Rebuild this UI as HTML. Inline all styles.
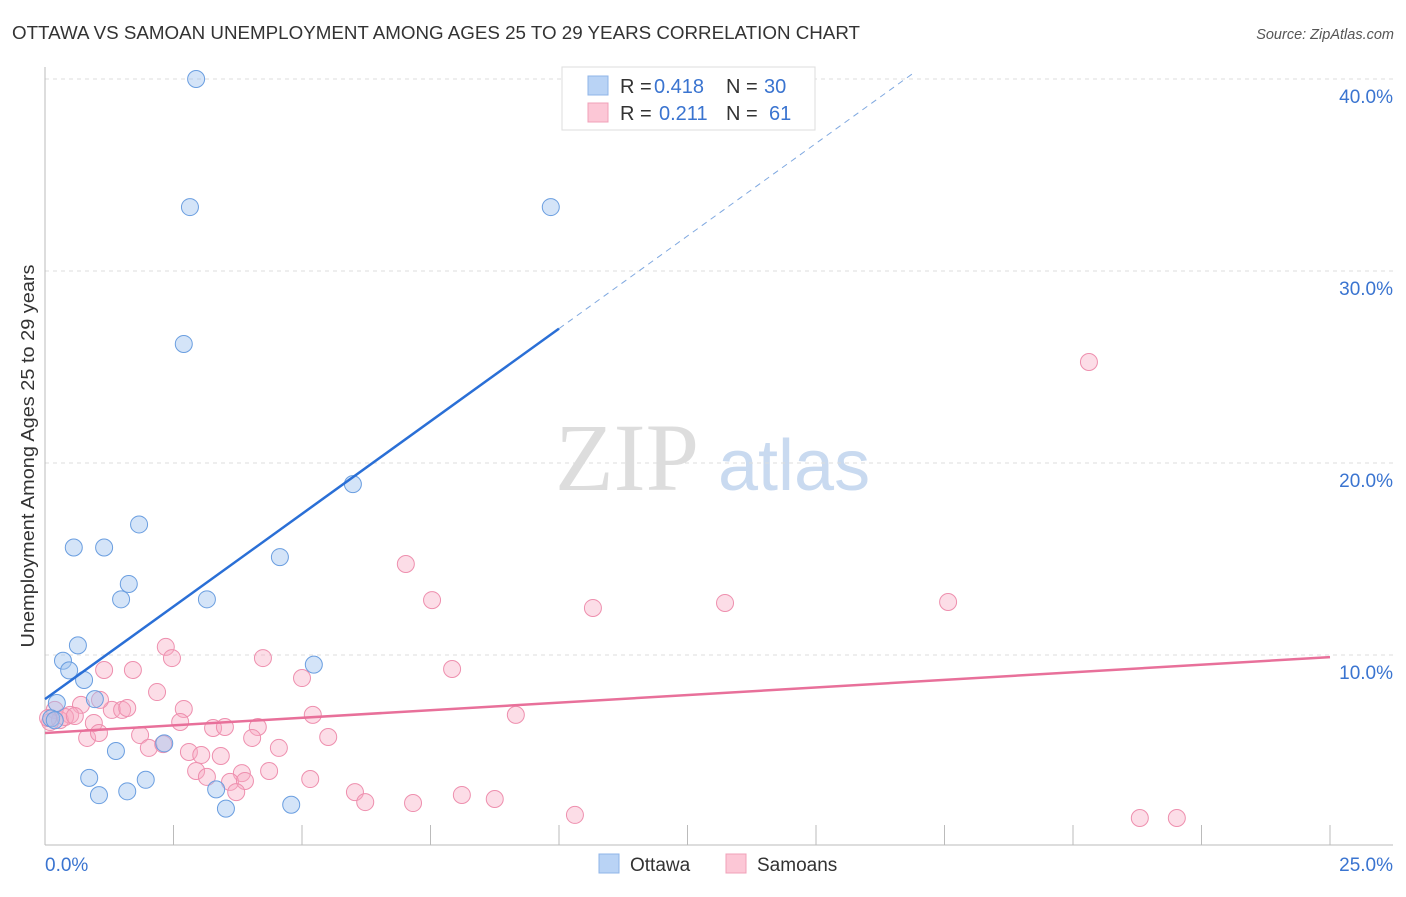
<!DOCTYPE html>
<html><head><meta charset="utf-8"><style>
body{margin:0;background:#fff;font-family:"Liberation Sans",sans-serif;}
</style></head><body>
<svg id="chart" width="1406" height="892" xmlns="http://www.w3.org/2000/svg" font-family="Liberation Sans, sans-serif">
<text x="12" y="39" font-size="18" fill="#333" textLength="848" lengthAdjust="spacingAndGlyphs">OTTAWA VS SAMOAN UNEMPLOYMENT AMONG AGES 25 TO 29 YEARS CORRELATION CHART</text>
<text x="1394" y="39" font-size="14.5" fill="#555" text-anchor="end" font-style="italic">Source: ZipAtlas.com</text>
<g>
<text x="555" y="490" font-size="96" fill="#ddd" style="font-family:'Liberation Serif',serif">ZIP</text>
<text x="718" y="490" font-size="72" fill="#c9daf0">atlas</text>
</g>
<g id="grid"></g>
<g id="axes"></g>
<g id="marks"></g>
<g id="lines"></g>
<text transform="translate(34,456) rotate(-90)" font-size="18" fill="#333" text-anchor="middle" textLength="383" lengthAdjust="spacingAndGlyphs">Unemployment Among Ages 25 to 29 years</text>
<g>
<rect x="562" y="67" width="253" height="63" fill="#fff" stroke="#ddd"/>
<rect x="588" y="76" width="20" height="19" fill="#b9d3f5" stroke="#8fb4e8"/>
<rect x="588" y="103" width="20" height="19" fill="#fcc7d6" stroke="#f0a0b8"/>
<text x="620" y="93" font-size="20" fill="#333">R =</text>
<text x="654" y="93" font-size="20" fill="#3a74d0">0.418</text>
<text x="726" y="93" font-size="20" fill="#333">N =</text>
<text x="764" y="93" font-size="20" fill="#3a74d0">30</text>
<text x="620" y="120" font-size="20" fill="#333">R =</text>
<text x="659" y="120" font-size="20" fill="#3a74d0">0.211</text>
<text x="726" y="120" font-size="20" fill="#333">N =</text>
<text x="769" y="120" font-size="20" fill="#3a74d0">61</text>
</g>
<g>
<rect x="599" y="854" width="20" height="19" fill="#b9d3f5" stroke="#8fb4e8"/>
<text x="630" y="871" font-size="19" fill="#333">Ottawa</text>
<rect x="726" y="854" width="20" height="19" fill="#fcc7d6" stroke="#f0a0b8"/>
<text x="757" y="871" font-size="19" fill="#333">Samoans</text>
</g>
</svg>
<script>
const ottawaX=[2.94,2.82,9.84,2.70,5.99,1.83,0.56,1.15,4.57,1.63,1.48,3.15,0.64,0.35,0.47,5.23,0.76,0.97,0.23,0.12,0.19,1.38,2.32,0.86,1.96,1.05,1.60,3.33,4.79,3.52];
const ottawaY=[40.0,33.33,33.33,26.2,18.9,16.8,15.6,15.6,15.1,13.7,12.9,12.9,10.5,9.7,9.2,9.5,8.7,7.7,7.5,6.7,6.6,5.0,5.4,3.6,3.5,2.7,2.9,3.0,2.2,2.0];
const samoanX=[20.31,7.02,7.53,10.66,13.23,17.57,2.35,2.47,1.15,1.71,4.24,7.92,5.00,2.18,0.70,1.30,1.50,1.60,2.70,0.19,0.49,0.95,2.63,3.27,3.50,4.14,5.21,9.16,0.29,0.82,1.85,1.05,2.02,2.30,2.80,3.04,3.42,4.55,5.51,4.03,2.94,3.15,3.83,4.36,3.60,3.89,3.72,5.16,6.03,6.23,7.16,8.11,8.75,10.31,21.30,22.02,0.10,0.39,0.58,1.07,0.06];
const samoanY=[25.26,14.74,12.86,12.45,12.71,12.76,10.42,9.84,9.22,9.22,9.84,9.27,8.80,8.07,7.40,7.14,7.14,7.24,7.19,7.14,6.88,6.46,6.51,6.20,6.25,6.25,6.88,6.88,6.61,5.68,5.83,5.94,5.16,5.36,4.95,4.79,4.74,5.16,5.73,5.68,3.96,3.65,3.85,3.96,3.39,3.44,2.86,3.54,2.86,2.34,2.29,2.71,2.50,1.67,1.51,1.51,6.51,6.77,6.82,7.66,6.72];
const yTicks=[10,20,30,40];
const yTickLabels=["10.0%","20.0%","30.0%","40.0%"];
const xTicks=[0,2.5,5,7.5,10,12.5,15,17.5,20,22.5,25];
const ottawaFit=[7.7,1.93];
const samoanFit=[5.94,0.158];
const NS="http://www.w3.org/2000/svg";
const xs=v=>45+v*51.4, ys=v=>847-v*19.2;
function mk(p,t,a){const e=document.createElementNS(NS,t);for(const k in a)e.setAttribute(k,a[k]);p.appendChild(e);return e;}
const grid=document.getElementById('grid'),axes=document.getElementById('axes'),marks=document.getElementById('marks'),lines=document.getElementById('lines');
yTicks.forEach((t,i)=>{
 const l=mk(grid,'line',{x1:45,x2:1393,y1:ys(t),y2:ys(t),stroke:'#ddd','stroke-dasharray':'4,4'});
 
 
 const tx=mk(grid,'text',{x:1393,y:ys(t)+24,'font-size':19,fill:'#3a74d0','text-anchor':'end'});tx.textContent=yTickLabels[i];
 
 
});
let a=mk(axes,'line',{x1:45,x2:45,y1:67,y2:845,stroke:'#bbb'});


a=mk(axes,'line',{x1:45,x2:1393,y1:845,y2:845,stroke:'#bbb'});


xTicks.forEach(t=>{const l=mk(axes,'line',{x1:xs(t),x2:xs(t),y1:825,y2:845,stroke:'#bbb'});
 
 });
let tl=mk(axes,'text',{x:45,y:871,'font-size':19,fill:'#3a74d0'});tl.textContent='0.0%';


tl=mk(axes,'text',{x:1393,y:871,'font-size':19,fill:'#3a74d0','text-anchor':'end'});tl.textContent='25.0%';


samoanX.forEach((x,i)=>{const c=mk(marks,'circle',{cx:xs(x),cy:ys(samoanY[i]),r:8.5,fill:'rgba(248,170,195,0.4)',stroke:'#ee8fae','stroke-width':1});
 
 });
ottawaX.forEach((x,i)=>{const c=mk(marks,'circle',{cx:xs(x),cy:ys(ottawaY[i]),r:8.5,fill:'rgba(160,196,240,0.45)',stroke:'#6a9ee0','stroke-width':1});
 
 });
let f=mk(lines,'line',{x1:xs(0),y1:ys(ottawaFit[0]),x2:xs(10),y2:ys(ottawaFit[0]+10*ottawaFit[1]),stroke:'#2a6fd6','stroke-width':2.5});


const xe=(40.3-ottawaFit[0])/ottawaFit[1];
f=mk(lines,'line',{x1:xs(10),y1:ys(ottawaFit[0]+10*ottawaFit[1]),x2:xs(xe),y2:ys(40.3),stroke:'#7fa8e0','stroke-width':1,'stroke-dasharray':'6,5'});


f=mk(lines,'line',{x1:xs(0),y1:ys(samoanFit[0]),x2:xs(25),y2:ys(samoanFit[0]+25*samoanFit[1]),stroke:'#e8709a','stroke-width':2.5});


</script>
</body></html>
